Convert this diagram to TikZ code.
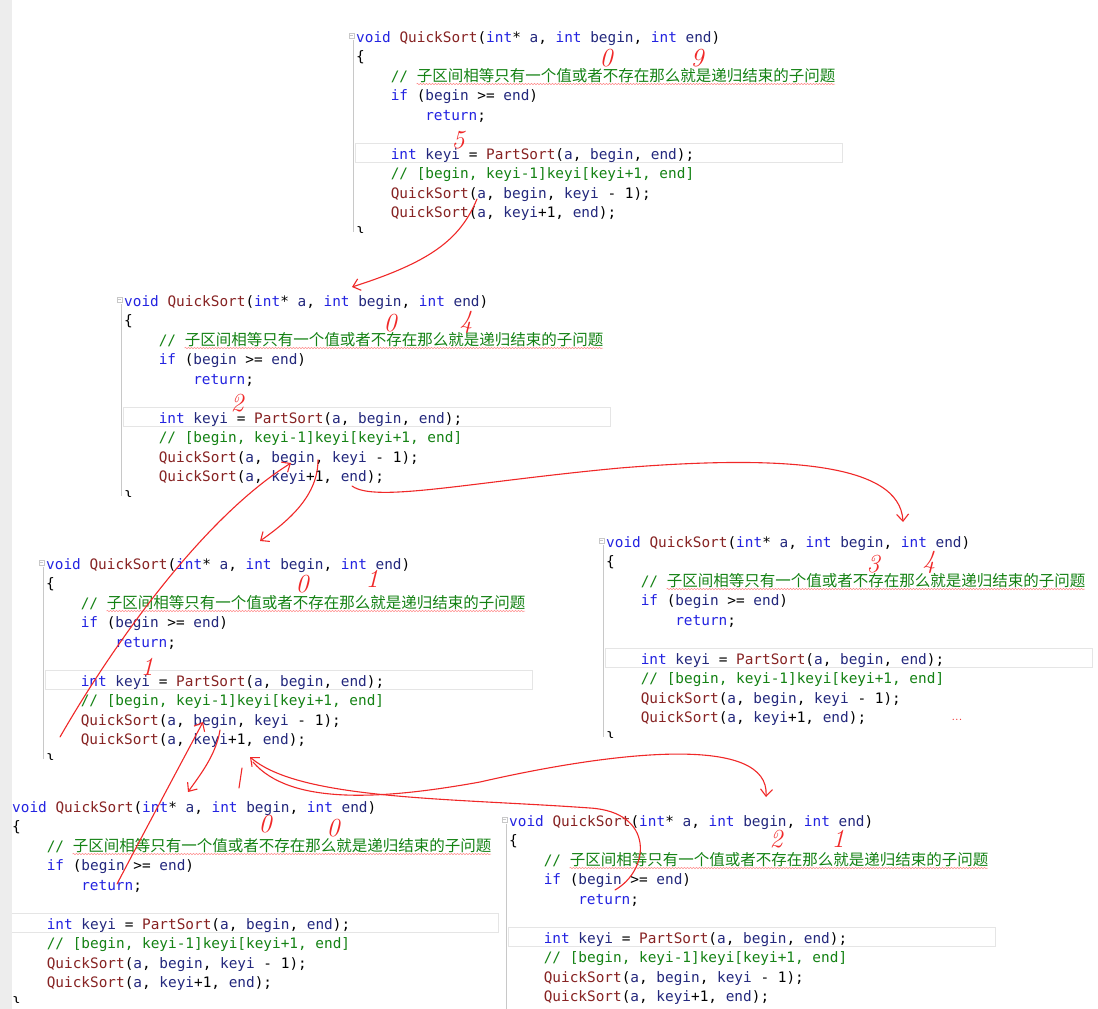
\documentclass[tikz,border=0pt]{standalone}
\usepackage{fontspec}
\setmonofont{DejaVu Sans Mono}
\newfontfamily\cjk{Noto Sans CJK SC}
\usetikzlibrary{arrows.meta,decorations.pathmorphing}

\definecolor{kwblue}{RGB}{35,35,225}
\definecolor{fnred}{RGB}{135,35,35}
\definecolor{parnavy}{RGB}{35,40,125}
\definecolor{cmtgreen}{RGB}{20,130,20}
\definecolor{pen}{RGB}{240,40,40}
\definecolor{rulegray}{RGB}{200,200,200}

\newcommand\kw[1]{\textcolor{kwblue}{#1}}
\newcommand\fn[1]{\textcolor{fnred}{#1}}
\newcommand\pa[1]{\textcolor{parnavy}{#1}}

\tikzset{
  code/.style={anchor=mid west, yshift=-4pt, inner sep=0pt, font=\ttfamily\fontsize{14.4}{14.4}\selectfont},
  hand/.style={text=pen, inner sep=0pt, font=\fontsize{26}{26}\selectfont\itshape},
  stroke/.style={draw=pen, line width=1.1pt, line cap=round, line join=round},
  call/.style={stroke, -{Straight Barb[length=7pt,width=12pt]}},
}

% one screenshot of QuickSort: #1 name, #2/#3 = left of "void", first line
\newcommand\qsblock[3]{%
  \begin{scope}[shift={(#2,#3)}]
    \draw[rulegray, line width=0.8pt] (-3,4) -- (-3,196);
    \draw[rulegray, fill=white, line width=0.6pt] (-7,-3) rectangle (-2,2);
    \draw[rulegray, line width=0.6pt] (-6,-0.5) -- (-3,-0.5);
    \draw[gray!20, line width=0.8pt] (-1,107.5) rectangle (486,126.5);
    \draw[red!45, line width=0.5pt, decorate,
      decoration={snake, amplitude=0.7pt, segment length=3pt}] (60.5,48) -- (479,48);
    \node[code] (#1-l1) at (0,0)
      {\kw{void} \fn{QuickSort}(\kw{int}* \pa{a}, \kw{int} \pa{begin}, \kw{int} \pa{end})};
    \node[code] (#1-l2) at (0,19.5) {\{};
    \node[code] (#1-l3) at (34.56,39)
      {\textcolor{cmtgreen}{// {\cjk\fontsize{15.5}{15.5}\selectfont 子区间相等只有一个值或者不存在那么就是递归结束的子问题}}};
    \node[code] (#1-l4) at (34.56,58.5) {\kw{if} (\pa{begin} >= \pa{end})};
    \node[code] (#1-l5) at (69.12,78) {\kw{return};};
    \node[code] (#1-l7) at (34.56,117)
      {\kw{int} \pa{keyi} = \fn{PartSort}(\pa{a}, \pa{begin}, \pa{end});};
    \node[code] (#1-l8) at (34.56,136.5)
      {\textcolor{cmtgreen}{// [begin, keyi-1]keyi[keyi+1, end]}};
    \node[code] (#1-l9) at (34.56,156) {\fn{QuickSort}(\pa{a}, \pa{begin}, \pa{keyi} - 1);};
    \node[code] (#1-l10) at (34.56,175.5) {\fn{QuickSort}(\pa{a}, \pa{keyi}+1, \pa{end});};
    \begin{scope}
      \clip (-5,180) rectangle (20,196);
      \node[code] (#1-l11) at (0,195) {\}};
    \end{scope}
  \end{scope}}

\begin{document}
\begin{tikzpicture}[x=1pt, y=-1pt]
  \useasboundingbox (0,0) rectangle (1098,1009);
  \fill[white] (0,0) rectangle (1098,1009);

  \foreach \b/\x/\y in {A/356/36, B/124/300, C/46/563, D/606/541, E/12/806, F/509/820}
    \qsblock{\b}{\x}{\y};

  \fill[black!7] (0,0) rectangle (12,1009);

  % values written on each call
  \foreach \n/\x/\y/\t in {
    A-beg/606/58/0, A-end/697/58/9, A-key/458/140/5,
    B-beg/390/323/0, B-end/466/322/4, B-key/237/403/2,
    C-beg/302/584/0, C-end/372/579/1, C-key/147/667/1,
    D-beg/873/564/3, D-end/929/562/4,
    E-beg/265/824/0, E-end/333/828/0,
    F-beg/776/839/2, F-end/838/839/1} {
    \node[hand] (\n) at (\x,\y) {\t};
  }
  \node[text=pen, inner sep=0pt, font=\fontsize{13}{13}\selectfont] (D-more) at (957,720) {...};

  \coordinate (A-call) at (477,199);
  \coordinate (B-in) at (352,287);
  \coordinate (B-right) at (352,486);
  \coordinate (D-in) at (903,522);
  \coordinate (B-left) at (318,460);
  \coordinate (C-in) at (260,541);
  \coordinate (C-back) at (60,737);
  \coordinate (B-ret) at (291,463);
  \coordinate (C-left) at (220,730);
  \coordinate (E-in) at (188,792);
  \coordinate (E-back) at (117,884);
  \coordinate (C-ret) at (203,722);
  \coordinate (C-right) at (253,762);
  \coordinate (F-in) at (766,797);
  \coordinate (F-back) at (615,890);
  \coordinate (C-home) at (250,757);

  % recursion: calls go down, returns come back up
  \draw[call] (A-call) .. controls (460,240) and (430,262) .. (B-in);
  \draw[call] (B-right) .. controls (375,503) and (470,482) .. (620,468)
    .. controls (780,455) and (900,462) .. (D-in);
  \draw[call] (B-left) .. controls (318,495) and (290,520) .. (C-in);
  \draw[call] (C-back) .. controls (110,650) and (200,520) .. (B-ret);
  \draw[call] (C-left) .. controls (216,755) and (200,775) .. (E-in);
  \draw[call] (E-back) .. controls (140,840) and (180,765) .. (C-ret);
  \draw[call] (C-right) .. controls (290,805) and (380,800) .. (480,782)
    .. controls (620,750) and (770,735) .. (F-in);
  \draw[call] (F-back) .. controls (650,870) and (655,812) .. (590,808)
    .. controls (450,798) and (300,800) .. (C-home);
  \draw[stroke] (239,788) -- (242,768);
\end{tikzpicture}
\end{document}
